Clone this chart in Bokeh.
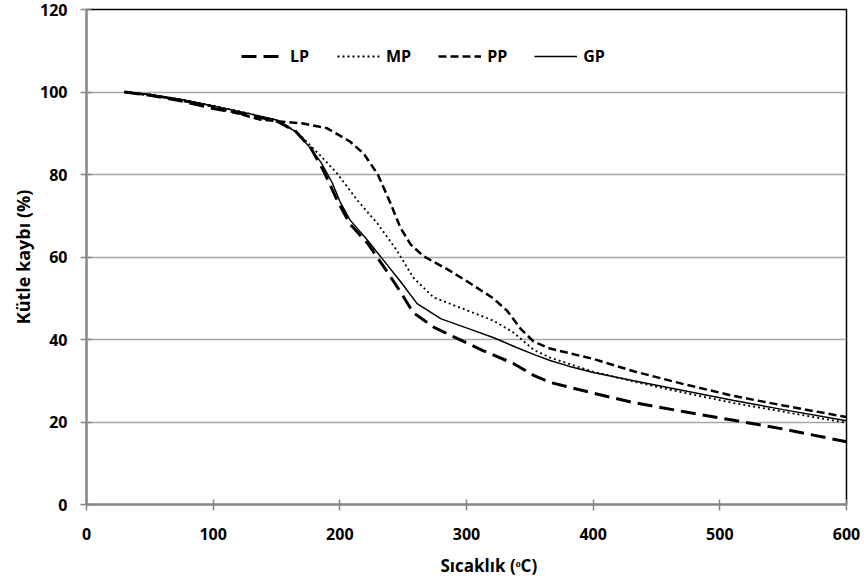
from bokeh.plotting import figure
from bokeh.models import Range1d, Legend, LegendItem, Title, FixedTicker
from bokeh.embed import file_html
from bokeh.resources import INLINE

# ---- data ----
lp_t = [30, 50, 75, 100, 125, 150, 165, 177, 187, 198, 208, 222, 235, 248, 258, 274, 293, 313, 337, 353, 366, 400, 432, 470, 511, 550, 600]
lp_m = [100, 99.2, 97.8, 96, 94.6, 93, 90.5, 86.5, 81, 73.7, 68, 63.3, 57.5, 51.5, 46.5, 43, 40.2, 37.3, 34.2, 31.3, 29.6, 27, 24.7, 22.6, 20.4, 18.3, 15.2]

mp_t = [30, 50, 75, 100, 125, 150, 166, 173, 185, 198, 214, 230, 245, 258, 274, 301, 321, 337, 353, 366, 400, 432, 470, 511, 550, 600]
mp_m = [100, 99.4, 98.2, 96.7, 95, 93.2, 90.3, 88.2, 84.5, 80.2, 73.7, 68, 61.6, 55, 50.2, 47, 44.6, 41.7, 37.5, 35.6, 32.2, 29.8, 27.2, 24.6, 22.5, 19.8]

pp_t = [30, 60, 100, 137, 170, 190, 208, 219, 230, 240, 248, 256, 266, 285, 301, 321, 332, 343, 353, 366, 400, 432, 470, 511, 550, 600]
pp_m = [100, 98.8, 96.5, 93.3, 92.4, 91.2, 88, 85, 80, 73, 67, 63, 60.2, 57, 54, 50, 47, 42.5, 39.5, 37.8, 35.3, 32.3, 29.3, 26.3, 24, 21.2]

gp_t = [30, 50, 75, 100, 125, 150, 166, 175, 185, 194, 200, 208, 222, 235, 248, 261, 280, 301, 321, 340, 353, 366, 380, 400, 432, 470, 511, 550, 600]
gp_m = [100, 99.4, 98.2, 96.6, 95, 93.2, 90.2, 87, 83, 78, 73.5, 69, 64, 59, 54, 48.7, 45, 42.7, 40.5, 38, 36.4, 34.9, 33.6, 32, 30, 27.7, 25.2, 23, 20.3]

x_ticks = [0, 100, 200, 300, 400, 500, 600]
y_ticks = [0, 20, 40, 60, 80, 100, 120]
x_title = "Sıcaklık (ᵒC)"
y_title = "Kütle kaybı (%)"
names = ["LP", "MP", "PP", "GP"]

FONT = "Open Sans"

p = figure(width=864, height=586, output_backend="svg", toolbar_location=None,
           x_range=Range1d(0, 600), y_range=Range1d(0, 120),
           min_border_left=86, min_border_right=18, min_border_top=9, min_border_bottom=82)

p.background_fill_color = "white"
p.border_fill_color = "white"
p.outline_line_color = "black"
p.outline_line_width = 1.5

# grid
p.xgrid.visible = False
p.ygrid.ticker = FixedTicker(ticks=y_ticks)
p.ygrid.grid_line_color = "#a6a6a6"
p.ygrid.grid_line_width = 1.5

for ax, ticks in ((p.xaxis, x_ticks), (p.yaxis, y_ticks)):
    ax.ticker = FixedTicker(ticks=ticks)
    ax.axis_line_color = "#868686"
    ax.axis_line_width = 2
    ax.major_tick_line_color = "#868686"
    ax.major_tick_line_width = 1.5
    ax.major_tick_in = 5
    ax.major_tick_out = 6
    ax.minor_tick_line_color = None
    ax.major_label_text_font = FONT
    ax.major_label_text_font_style = "bold"
    ax.major_label_text_font_size = "16px"
    ax.major_label_text_color = "black"

p.xaxis.major_label_standoff = 17
p.yaxis.major_label_standoff = 13

p.yaxis.axis_label = y_title
p.yaxis.axis_label_text_font = FONT
p.yaxis.axis_label_text_font_style = "bold"
p.yaxis.axis_label_text_font_size = "18px"
p.yaxis.axis_label_text_color = "black"
p.yaxis.axis_label_standoff = 2

# x-axis title placed like the reference (slightly right of centre)
p.add_layout(Title(text=x_title, align="left", offset=354, standoff=19,
                   text_font=FONT, text_font_style="bold", text_font_size="17px",
                   text_color="black"), "below")

r_lp = p.line(lp_t, lp_m, line_color="black", line_width=3, line_dash="15 7")
r_mp = p.line(mp_t, mp_m, line_color="black", line_width=1.8, line_dash="2 3")
r_pp = p.line(pp_t, pp_m, line_color="black", line_width=2.5, line_dash="8 4")
r_gp = p.line(gp_t, gp_m, line_color="black", line_width=1.5)

legend = Legend(items=[LegendItem(label=n, renderers=[r]) for n, r in zip(names, [r_lp, r_mp, r_pp, r_gp])],
                orientation="horizontal", location=(155, 437),
                glyph_width=43, glyph_height=20, label_standoff=6, spacing=27,
                padding=0, margin=0, border_line_color=None, background_fill_alpha=0,
                label_text_font=FONT, label_text_font_style="bold", label_text_font_size="16px",
                label_text_color="black")
p.add_layout(legend)

open("out.html", "w").write(file_html(p, INLINE))
